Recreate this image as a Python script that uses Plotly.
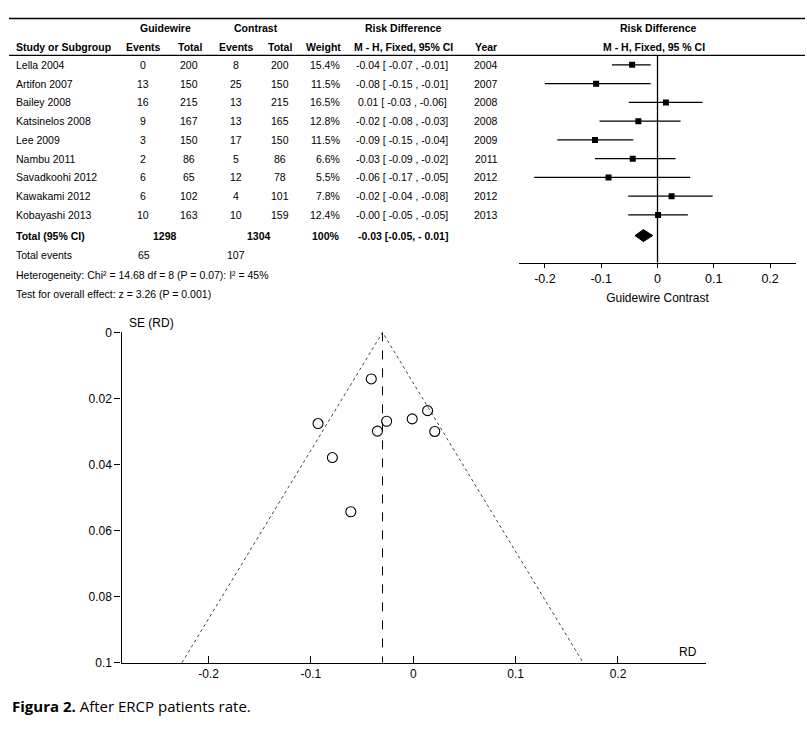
import plotly.graph_objects as go

W, H = 807, 733
def px(x):
    return x / W
def py(y):
    return 1 - y / H

# ---------------- data ----------------
studies = ["Lella 2004", "Artifon 2007", "Bailey 2008", "Katsinelos 2008", "Lee 2009",
           "Nambu 2011", "Savadkoohi 2012", "Kawakami 2012", "Kobayashi 2013"]
gw_events = [0, 13, 16, 9, 3, 2, 6, 6, 10]
gw_total = [200, 150, 215, 167, 150, 86, 65, 102, 163]
ct_events = [8, 25, 13, 13, 17, 5, 12, 4, 10]
ct_total = [200, 150, 215, 165, 150, 86, 78, 101, 159]
weights = ["15.4%", "11.5%", "16.5%", "12.8%", "11.5%", "6.6%", "5.5%", "7.8%", "12.4%"]
ci_text = ["-0.04 [ -0.07 , -0.01]", "-0.08 [ -0.15 , -0.01]", "0.01 [ -0.03 , -0.06]",
           "-0.02 [ -0.08 , -0.03]", "-0.09 [ -0.15 , -0.04]", "-0.03 [ -0.09 , -0.02]",
           "-0.06 [ -0.17 , -0.05]", "-0.02 [ -0.04 , -0.08]", "-0.00 [ -0.05 , -0.05]"]
years = [2004, 2007, 2008, 2008, 2009, 2011, 2012, 2012, 2013]
total_gw, total_ct = 1298, 1304
events_gw, events_ct = 65, 107
total_weight = "100%"
total_ci_text = "-0.03 [-0.05, - 0.01]"
heterogeneity = "Heterogeneity: Chi² = 14.68 df = 8 (P = 0.07): I² = 45%"
overall = "Test for overall effect: z = 3.26 (P = 0.001)"

# forest plot values as drawn
rd_est = [-0.045, -0.109, 0.015, -0.034, -0.111, -0.044, -0.087, 0.025, 0.001]
rd_lo = [-0.081, -0.200, -0.051, -0.103, -0.178, -0.111, -0.219, -0.052, -0.052]
rd_hi = [-0.012, -0.012, 0.080, 0.041, -0.043, 0.032, 0.058, 0.098, 0.054]
pooled_est, pooled_lo, pooled_hi = -0.025, -0.040, -0.0085
forest_ticks = [-0.2, -0.1, 0, 0.1, 0.2]
forest_ticktext = ["-0.2", "-0.1", "0", "0.1", "0.2"]

# funnel plot values
funnel_rd = [-0.041, -0.093, -0.079, -0.061, -0.035, -0.026, -0.001, 0.014, 0.021]
funnel_se = [0.0141, 0.0276, 0.0379, 0.0543, 0.0299, 0.0269, 0.0262, 0.0237, 0.0300]
funnel_center = -0.03
se_limits = [0.0, 0.1]
funnel_xticks = [-0.2, -0.1, 0, 0.1, 0.2]
funnel_xticktext = ["-0.2", "-0.1", "0", "0.1", "0.2"]
funnel_yticks = [0, 0.02, 0.04, 0.06, 0.08, 0.1]
funnel_yticktext = ["0", "0.02", "0.04", "0.06", "0.08", "0.1"]

FONT = "Liberation Sans, Arial, sans-serif"
TS = 10.5  # table font size
fig = go.Figure()

# ---------------- forest plot ----------------
row_idx = list(range(len(studies)))
for i in row_idx:
    fig.add_trace(go.Scatter(x=[rd_lo[i], rd_hi[i]], y=[i, i], mode="lines",
                             line=dict(color="black", width=1.3), xaxis="x", yaxis="y",
                             showlegend=False, hoverinfo="skip"))
fig.add_trace(go.Scatter(x=rd_est, y=row_idx, mode="markers",
                         marker=dict(symbol="square", size=6, color="black"),
                         xaxis="x", yaxis="y", showlegend=False))
total_row = 9.1
dh = 0.32
fig.add_trace(go.Scatter(x=[pooled_lo, pooled_est, pooled_hi, pooled_est, pooled_lo],
                         y=[total_row, total_row - dh, total_row, total_row + dh, total_row],
                         mode="lines", fill="toself", fillcolor="black",
                         line=dict(color="black", width=1), xaxis="x", yaxis="y",
                         showlegend=False))

# ---------------- funnel plot ----------------
fig.add_trace(go.Scatter(x=[funnel_center - 1.96 * se_limits[1], funnel_center,
                            funnel_center + 1.96 * se_limits[1]],
                         y=[se_limits[1], se_limits[0], se_limits[1]], mode="lines",
                         line=dict(color="#444", width=1, dash="dot"),
                         xaxis="x2", yaxis="y2", showlegend=False))
fig.add_trace(go.Scatter(x=[funnel_center, funnel_center], y=se_limits, mode="lines",
                         line=dict(color="black", width=1, dash="dash"),
                         xaxis="x2", yaxis="y2", showlegend=False))
fig.add_trace(go.Scatter(x=funnel_rd, y=funnel_se, mode="markers",
                         marker=dict(symbol="circle-open", size=10, color="black",
                                     line=dict(width=1.1)),
                         xaxis="x2", yaxis="y2", showlegend=False))

# ---------------- layout ----------------
fy_top, fy_bot = 49, 260.5
row0, step = 59, 19.125
fig.update_layout(
    width=W, height=H, margin=dict(l=0, r=0, t=0, b=0),
    paper_bgcolor="white", plot_bgcolor="white",
    font=dict(family=FONT, size=11, color="black"),
    xaxis=dict(domain=[px(519), px(796)], range=[-0.246, 0.246], anchor="y",
               showline=True, linecolor="black", linewidth=1.3, showgrid=False,
               zeroline=False, ticks="outside", ticklen=4, tickwidth=1, tickcolor="black",
               tickvals=forest_ticks, ticktext=forest_ticktext,
               tickfont=dict(size=12.5, family=FONT),
               title=dict(text="Guidewire Contrast", font=dict(size=12, family=FONT),
                          standoff=8)),
    yaxis=dict(domain=[py(fy_bot), py(fy_top)],
               range=[(fy_bot - row0) / step, (fy_top - row0) / step],
               anchor="x", visible=False, showgrid=False, zeroline=False),
    xaxis2=dict(domain=[px(121.5), px(706)], range=[-0.285, 0.286], anchor="y2",
                showline=True, linecolor="black", linewidth=1.3, showgrid=False,
                zeroline=False, ticks="inside", ticklen=7, tickwidth=1.2, tickcolor="black",
                tickvals=funnel_xticks, ticktext=funnel_xticktext,
                tickfont=dict(size=12, family=FONT)),
    yaxis2=dict(domain=[py(668.5), py(331.7)], range=[0.1, 0], anchor="x2",
                showline=True, linecolor="black", linewidth=1.3, showgrid=False,
                zeroline=False, ticks="outside", ticklen=6, tickwidth=1.2, tickcolor="black",
                tickvals=funnel_yticks, ticktext=funnel_yticktext,
                tickfont=dict(size=12, family=FONT)),
    yaxis3=dict(domain=[py(668.5), py(331.7)], range=[0.1, 0], anchor="x2",
                overlaying="y2", side="left", showline=False, showgrid=False,
                zeroline=False, ticks="inside", ticklen=6, tickwidth=1.2, tickcolor="black",
                tickvals=funnel_yticks, showticklabels=False),
)

shapes = [
    dict(type="line", xref="paper", yref="paper", x0=px(9), x1=px(805), y0=py(11.7), y1=py(11.7),
         line=dict(color="black", width=1.3)),
    dict(type="line", xref="paper", yref="paper", x0=px(9), x1=px(805), y0=py(49.3), y1=py(49.3),
         line=dict(color="black", width=1.3)),
    dict(type="line", xref="x", yref="y domain", x0=0, x1=0, y0=0, y1=1,
         line=dict(color="black", width=1.3)),
]
fig.update_layout(shapes=shapes)

ann = []
def txt(text, x, y, anchor="center", bold=False, size=TS, family=FONT):
    if bold:
        text = "<b>" + text + "</b>"
    ann.append(dict(text=text, x=px(x), y=py(y), xref="paper", yref="paper",
                    xanchor=anchor, yanchor="middle", showarrow=False,
                    font=dict(size=size, family=family, color="black")))

# headers
txt("Guidewire", 165.5, 21.7, bold=True)
txt("Contrast", 256, 21.7, bold=True)
txt("Risk Difference", 403.5, 21.7, bold=True)
txt("Risk Difference", 658, 21.7, bold=True)
txt("Study or Subgroup", 14, 40.7, anchor="left", bold=True)
txt("Events", 143, 40.7, bold=True)
txt("Total", 189.5, 40.7, bold=True)
txt("Events", 236, 40.7, bold=True)
txt("Total", 280, 40.7, bold=True)
txt("Weight", 323, 40.7, bold=True)
txt("M - H, Fixed, 95% CI", 403, 40.7, bold=True)
txt("Year", 486, 40.7, bold=True)
txt("M - H, Fixed, 95 % CI", 654, 40.7, bold=True)

for i, s in enumerate(studies):
    y = row0 + step * i
    txt(s, 14, y, anchor="left")
    txt(str(gw_events[i]), 143, y)
    txt(str(gw_total[i]), 189, y)
    txt(str(ct_events[i]), 235.5, y)
    txt(str(ct_total[i]), 280, y)
    txt(weights[i], 342, y, anchor="right")
    txt(ci_text[i], 402, y)
    txt(str(years[i]), 486, y)

txt("Total (95% CI)", 14, 233, anchor="left", bold=True)
txt(str(total_gw), 165, 233, bold=True)
txt(str(total_ct), 258.5, 233, bold=True)
txt(total_weight, 342, 233, anchor="right", bold=True)
txt(total_ci_text, 403, 233, bold=True)
txt("Total events", 14, 253, anchor="left")
txt(str(events_gw), 143.5, 253)
txt(str(events_ct), 236, 253)
txt(heterogeneity, 14, 273, anchor="left")
txt(overall, 14, 293, anchor="left")

# funnel labels
txt("SE (RD)", 127, 322, anchor="left", size=12)
txt("RD", 688, 658, size=12)

# caption
ann.append(dict(text="<b>Figura 2.</b> After ERCP patients rate.", x=px(10), y=py(713),
                xref="paper", yref="paper", xanchor="left", yanchor="middle",
                showarrow=False, font=dict(size=15, family="Open Sans, Noto Sans, sans-serif",
                                           color="black")))
fig.update_layout(annotations=ann)

fig.write_html("out.html", config={"displayModeBar": False},
               post_script="document.body.style.margin='0';document.documentElement.style.overflow='hidden';")
